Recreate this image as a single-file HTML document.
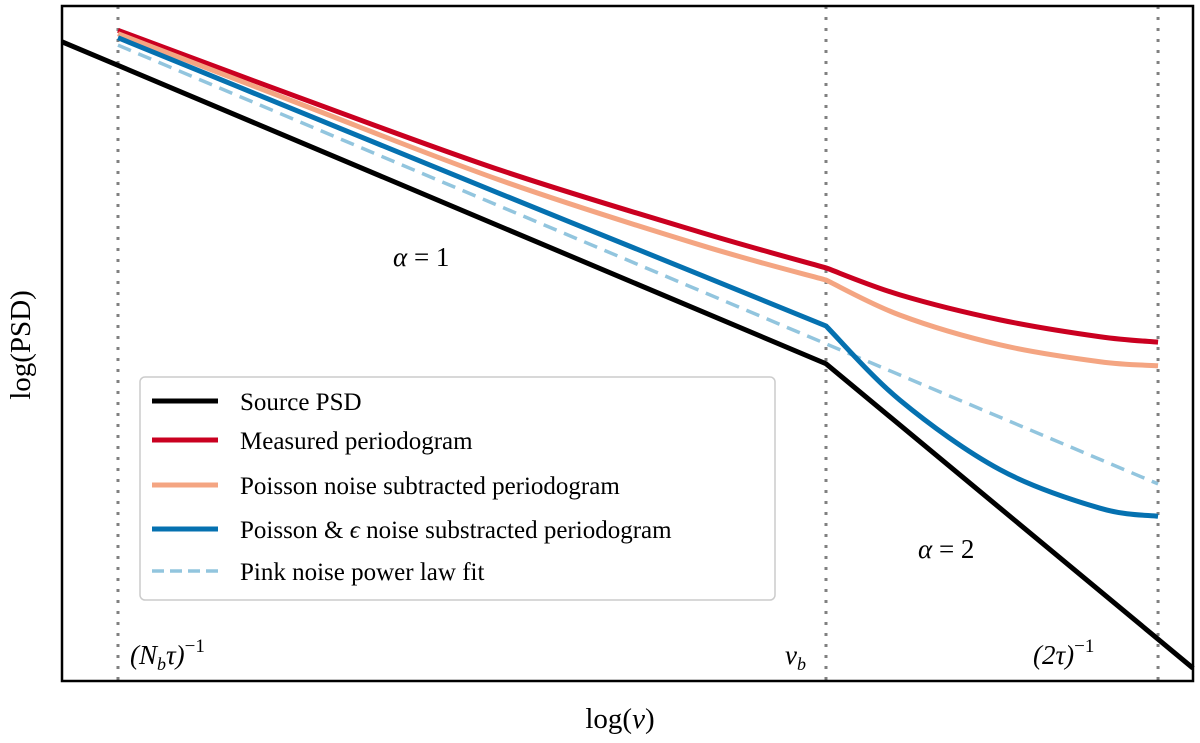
<!DOCTYPE html>
<html><head><meta charset="utf-8"><style>
body{margin:0;background:#fff}
svg{display:block;font-family:"Liberation Serif",serif}
</style></head><body>
<svg id="chart" width="1200" height="743" viewBox="0 0 1200 743" xmlns="http://www.w3.org/2000/svg">
<g id="marks"></g>
<rect x="62" y="6" width="1131" height="675" fill="none" stroke="#000" stroke-width="2.5"/>
<text x="130" y="664" font-size="27" font-style="italic">(N<tspan font-size="18" dy="6">b</tspan><tspan dy="-6">τ)</tspan><tspan font-size="19" dy="-12" font-style="normal">−1</tspan></text>
<text x="785" y="664" font-size="27" font-style="italic">ν<tspan font-size="18" dy="6">b</tspan></text>
<text x="1033" y="664" font-size="27" font-style="italic">(2τ)<tspan font-size="19" dy="-12" font-style="normal">−1</tspan></text>
<text x="393" y="266" font-size="27"><tspan font-style="italic">α</tspan> = 1</text>
<text x="918" y="558" font-size="27"><tspan font-style="italic">α</tspan> = 2</text>
<text x="620" y="728" font-size="29" text-anchor="middle">log(<tspan font-style="italic">ν</tspan>)</text>
<text transform="translate(30,345) rotate(-90)" font-size="29" text-anchor="middle">log(PSD)</text>
<g>
<rect x="140" y="377" width="635" height="223" rx="5" fill="#fff" fill-opacity="0.85" stroke="#ccc" stroke-width="1.5"/>
<line x1="152" y1="401" x2="218" y2="401" stroke="#000" stroke-width="5"/>
<text x="240" y="410" font-size="25">Source PSD</text>
<line x1="152" y1="440" x2="218" y2="440" stroke="#ca0020" stroke-width="5"/>
<text x="240" y="449" font-size="25">Measured periodogram</text>
<line x1="152" y1="485" x2="218" y2="485" stroke="#f4a582" stroke-width="5"/>
<text x="240" y="494" font-size="25">Poisson noise subtracted periodogram</text>
<line x1="152" y1="529" x2="218" y2="529" stroke="#0571b0" stroke-width="5"/>
<text x="240" y="538" font-size="25">Poisson &amp; <tspan font-style="italic">ϵ</tspan> noise substracted periodogram</text>
<line x1="152" y1="571" x2="218" y2="571" stroke="#92c5de" stroke-width="3.5" stroke-dasharray="12,6"/>
<text x="240" y="580" font-size="25">Pink noise power law fit</text>
</g>
</svg>
<script>
const vlineX = [0.495, 6.755, 9.691];
const sourceX = [0, 6.755, 10];
const sourceY = [9.47, 4.70, 0.19];
const curveX = [0.495, 2.104, 3.873, 5.641, 6.755, 7.409, 8.294, 9.178, 9.691];
const measuredY = [9.64, 8.64, 7.57, 6.65, 6.12, 5.72, 5.35, 5.10, 5.02];
const poissonY = [9.59, 8.55, 7.42, 6.46, 5.94, 5.42, 4.98, 4.73, 4.67];
const poissonEpsY = [9.53, 8.43, 7.22, 6.02, 5.26, 4.16, 3.13, 2.56, 2.44];
const fitX = [0.495, 9.691];
const fitY = [9.42, 2.92];
const kinkIndex = 4;

const sx = x => 62 + x * 113.1;
const sy = y => 681 - y * 67.5;
const NS = "http://www.w3.org/2000/svg";
const g = document.getElementById('marks');

function smoothSeg(p){
  let d = '';
  for(let i=0;i<p.length-1;i++){
    const p0=p[Math.max(0,i-1)],p1=p[i],p2=p[i+1],p3=p[Math.min(p.length-1,i+2)];
    const c1=[p1[0]+(p2[0]-p0[0])/6,p1[1]+(p2[1]-p0[1])/6];
    const c2=[p2[0]-(p3[0]-p1[0])/6,p2[1]-(p3[1]-p1[1])/6];
    d+=` C${c1[0]},${c1[1]} ${c2[0]},${c2[1]} ${p2[0]},${p2[1]}`;
  }
  return d;
}
function kinkPath(xs, ys){
  const p = xs.map((x,i)=>[sx(x), sy(ys[i])]);
  const a = p.slice(0, kinkIndex+1), b = p.slice(kinkIndex);
  return `M${p[0][0]},${p[0][1]}` + smoothSeg(a) + smoothSeg(b);
}
function linePath(xs, ys){
  return xs.map((x,i)=>(i?'L':'M')+sx(x)+','+sy(ys[i])).join(' ');
}

vlineX.forEach((x,i)=>{
  const l=document.createElementNS(NS,'line');
  l.setAttribute('x1',sx(x));l.setAttribute('x2',sx(x));
  l.setAttribute('y1',6);l.setAttribute('y2',681);
  l.setAttribute('stroke','#808080');l.setAttribute('stroke-width','3');
  l.setAttribute('stroke-dasharray','3,8');
  
  
  g.appendChild(l);
});

function addPath(d, color, w, dash, name){
  const p=document.createElementNS(NS,'path');
  p.setAttribute('d',d);p.setAttribute('fill','none');
  p.setAttribute('stroke',color);p.setAttribute('stroke-width',w);
  if(dash)p.setAttribute('stroke-dasharray',dash);
  
  
  g.appendChild(p);
}
addPath(linePath(sourceX,sourceY),'#000',5,null,'source-psd-line');
addPath(linePath(fitX,fitY),'#92c5de',3.5,'14,8','pink-noise-fit-line');
addPath(kinkPath(curveX,measuredY),'#ca0020',5,null,'measured-periodogram-line');
addPath(kinkPath(curveX,poissonY),'#f4a582',5,null,'poisson-subtracted-line');
addPath(kinkPath(curveX,poissonEpsY),'#0571b0',5,null,'poisson-eps-subtracted-line');
</script>
</body></html>
